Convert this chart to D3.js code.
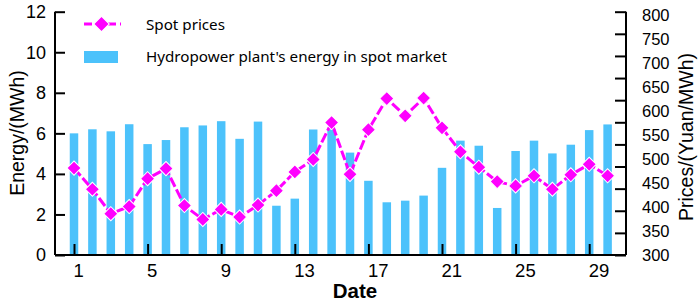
<!DOCTYPE html>
<html>
<head>
<meta charset="utf-8">
<script src="https://cdn.jsdelivr.net/npm/d3@7"></script>
<style>
  body { margin: 0; background: #fff; }
  svg { display: block; }
</style>
</head>
<body>
<svg id="chart"></svg>
<script>
// days 1..30
const days = d3.range(1, 31)
// hydropower plant's energy in spot market (MWh)
const energy = [6.0, 6.2, 6.1, 6.45, 5.47, 5.67, 6.3, 6.39, 6.6, 5.73,
  6.58, 2.43, 2.78, 6.19, 6.2, 5.05, 3.66, 2.6, 2.68, 2.93,
  4.3, 5.64, 5.39, 2.32, 5.13, 5.64, 5.01, 5.44, 6.16, 6.44]
// spot prices (Yuan/MWh)
const prices = [481, 437, 386, 401, 459, 480, 403, 374, 395, 379,
  404, 434, 473, 499, 576, 468, 561, 626, 590, 627,
  565, 515, 483, 453, 444, 465, 437, 467, 489, 465]
const xTicks = [1, 5, 9, 13, 17, 21, 25, 29]
const energyTicks = [0, 2, 4, 6, 8, 10, 12]
const priceTicks = d3.range(300, 801, 50)

const width = 699, height = 303
const left = 55, right = 626, bottom = 255

const svg = d3.select('#chart').attr('width', width).attr('height', height)
  .style('font-family', 'Liberation Sans, Arial, sans-serif')

const x = d3.scaleLinear().domain([1, 30]).range([74, 607.6])
const yE = d3.scaleLinear().domain([0, 12]).range([bottom, 11.7])
const yP = d3.scaleLinear().domain([300, 800]).range([bottom, 15])
// the right axis tick marks don't line up with its labels in the original
const yMark = d3.scaleLinear().domain([0, 11]).range([bottom, 11.7])

const barW = 8.5
const barColor = '#4cc2fb'
const pink = '#ff00ff'

// bars
svg.append('g').selectAll('rect')
  .data(days)
  .join('rect')
  .attr('x', d => x(d) - barW / 2)
  .attr('y', (d, i) => yE(energy[i]))
  .attr('width', barW)
  .attr('height', (d, i) => bottom - yE(energy[i]))
  .attr('fill', barColor)

// price line
let line = d3.line()
  .x((d, i) => x(days[i]))
  .y(d => yP(d))
svg.append('path')
  .attr('d', line(prices))
  .attr('fill', 'none')
  .attr('stroke', pink)
  .attr('stroke-width', 3)
  .attr('stroke-dasharray', '10,3')

const diamond = d3.symbol().type(d3.symbolSquare).size(100)
svg.append('g').selectAll('path')
  .data(prices)
  .join('path')
  .attr('d', diamond)
  .attr('transform', (d, i) => 'translate(' + x(days[i]) + ',' + yP(d) + ') rotate(45)')
  .attr('fill', pink)
  .attr('stroke', '#fff')
  .attr('stroke-width', 1)

// axes
const styleAxis = g => {
  g.selectAll('.domain').attr('stroke', '#000').attr('stroke-width', 2)
  g.selectAll('.tick line').attr('stroke', '#000').attr('stroke-width', 2)
  g.selectAll('text').attr('fill', '#000')
}

// bottom
svg.append('g')
  .attr('transform', 'translate(0,' + bottom + ')')
  .call(d3.axisBottom(x).tickValues(xTicks).tickSizeInner(-11).tickSizeOuter(0).tickPadding(0))
  .call(g => g.select('.domain').attr('d', 'M' + left + ',0H' + right))
  .call(g => g.selectAll('text').attr('text-anchor', 'start').attr('dx', '-1').attr('y', 9).attr('dy', '0.71em')
    .style('font-size', '18.5px'))
  .call(styleAxis)

// left
svg.append('g')
  .attr('transform', 'translate(' + left + ',0)')
  .call(d3.axisLeft(yE).tickValues(energyTicks).tickSizeInner(-10).tickSizeOuter(0).tickPadding(0))
  .call(g => g.select('.domain').attr('d', 'M0,' + bottom + 'V11.7'))
  .call(g => g.selectAll('text').attr('x', -9).style('font-size', '18px'))
  .call(styleAxis)

// right: tick marks
svg.append('g')
  .attr('transform', 'translate(' + right + ',0)')
  .call(d3.axisRight(yMark).tickValues(d3.range(0, 12)).tickSizeInner(-11).tickSizeOuter(0).tickFormat(''))
  .call(g => g.select('.domain').attr('d', 'M0,' + bottom + 'V11.7'))
  .call(styleAxis)

// right: labels
svg.append('g')
  .attr('transform', 'translate(' + right + ',0)')
  .call(d3.axisRight(yP).tickValues(priceTicks).tickSize(0).tickPadding(16))
  .call(g => g.select('.domain').remove())
  .call(g => g.selectAll('text').style('font-size', '16.5px'))
  .call(styleAxis)

// axis titles
svg.append('text')
  .attr('transform', 'translate(17,133) rotate(-90)')
  .attr('text-anchor', 'middle')
  .attr('dy', '0.35em')
  .style('font-size', '19.5px')
  .text('Energy/(MWh)')

svg.append('text')
  .attr('transform', 'translate(686,137) rotate(-90)')
  .attr('text-anchor', 'middle')
  .attr('dy', '0.35em')
  .style('font-size', '19.5px')
  .text('Prices/(Yuan/MWh)')

svg.append('text')
  .attr('x', 355)
  .attr('y', 291)
  .attr('text-anchor', 'middle')
  .attr('dy', '0.35em')
  .style('font-size', '20.5px')
  .style('font-weight', 'bold')
  .text('Date')

// legend
let legend = svg.append('g').style('font-family', 'Noto Sans, sans-serif').style('font-size', '15.2px')
legend.append('line')
  .attr('x1', 84).attr('x2', 121).attr('y1', 24).attr('y2', 24)
  .attr('stroke', pink).attr('stroke-width', 3).attr('stroke-dasharray', '8,4')
legend.append('path')
  .attr('d', diamond.size(120)())
  .attr('transform', 'translate(101.5,24) rotate(45)')
  .attr('fill', pink)
  .attr('stroke', '#fff')
legend.append('text').attr('x', 146).attr('y', 25).attr('dy', '0.35em').text('Spot prices')
legend.append('rect')
  .attr('x', 84).attr('y', 51).attr('width', 34).attr('height', 12)
  .attr('fill', barColor)
legend.append('text').attr('x', 146).attr('y', 57).attr('dy', '0.35em').text("Hydropower plant's energy in spot market")
</script>
</body>
</html>
